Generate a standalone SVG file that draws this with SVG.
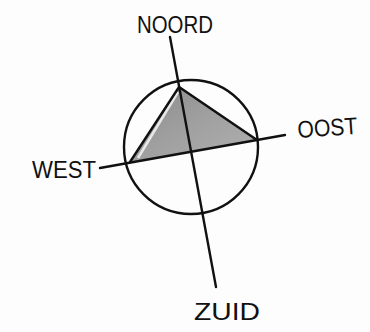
<svg xmlns="http://www.w3.org/2000/svg" width="370" height="332" viewBox="0 0 370 332">
  <style>
    .ln { stroke: #111; stroke-width: 2.4; fill: none; stroke-linecap: round; }
    .lbl { font-family: "Liberation Sans", "DejaVu Sans", sans-serif; font-size: 24px; fill: #111; }
  </style>
  <defs>
    <linearGradient id="shade" x1="0" y1="0" x2="1" y2="1">
      <stop offset="0" stop-color="#8a8a8a"/>
      <stop offset="0.5" stop-color="#a0a0a0"/>
      <stop offset="1" stop-color="#b0b0b0"/>
    </linearGradient>
  </defs>
  <rect width="370" height="332" fill="#fdfdfd"/>
  <g id="triangle">
    <polygon points="179,87 130,162 257,140" fill="url(#shade)"/>
    <line x1="178" y1="92" x2="138" y2="158" stroke="#e8e8e8" stroke-width="2.5"/>
    <polyline class="ln" points="130,162 179,87 257,140"/>
  </g>
  <g id="compass">
    <circle class="ln" cx="191" cy="147" r="67"/>
    <line class="ln" x1="170" y1="37" x2="216" y2="287"/>
    <line class="ln" x1="100" y1="168" x2="285" y2="135"/>
  </g>
  <g id="noord"><text class="lbl" x="137" y="33" textLength="76" lengthAdjust="spacingAndGlyphs">NOORD</text></g>
  <g id="oost"><text class="lbl" x="298" y="138" textLength="60" lengthAdjust="spacingAndGlyphs" transform="rotate(-4 298 138)">OOST</text></g>
  <g id="west"><text class="lbl" x="32" y="178" textLength="64" lengthAdjust="spacingAndGlyphs">WEST</text></g>
  <g id="zuid"><text class="lbl" x="194" y="320" textLength="66" lengthAdjust="spacingAndGlyphs">ZUID</text></g>
</svg>
